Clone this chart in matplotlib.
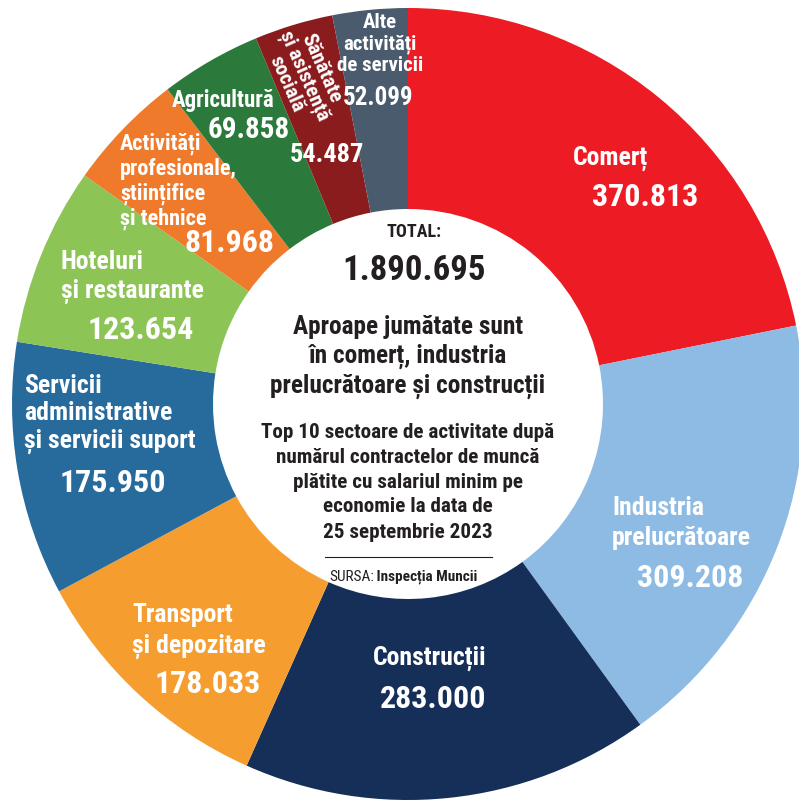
import numpy as np
import matplotlib.pyplot as plt

plt.rcParams['font.family'] = ['Roboto Condensed', 'Liberation Sans Narrow', 'Roboto', 'DejaVu Sans']

# date: numar contracte cu salariul minim, top 10 sectoare
sectoare = ['Comerț', 'Industria\nprelucrătoare', 'Construcții', 'Transport\nși depozitare',
            'Servicii\nadministrative\nși servicii suport', 'Hoteluri\nși restaurante',
            'Activități\nprofesionale,\nștiințifice\nși tehnice', 'Agricultură',
            'Sănătate\nși asistență\nsocială', 'Alte\nactivități\nde servicii']
contracte = [370813, 309208, 283000, 178033, 175950, 123654, 81968, 69858, 54487, 52099]
valori_txt = ['370.813', '309.208', '283.000', '178.033', '175.950', '123.654',
              '81.968', '69.858', '54.487', '52.099']
total_txt = '1.890.695'

culori = ['#ED1C24', '#8DBBE3', '#152F58', '#F59D2E', '#276A9C', '#8CC455',
          '#F07A2B', '#2B7A3B', '#8A1C1E', '#4A5B6D']

W, H = 799, 805
fig = plt.figure(figsize=(W / 100, H / 100), dpi=100)
ax = fig.add_axes([0, 0, 1, 1])

cx, cy = 408, H - 404
R, r_in = 396, 195
ax.pie(contracte, colors=culori, startangle=90, counterclock=False,
       radius=R, center=(cx, cy), frame=True,
       wedgeprops=dict(width=R - r_in, linewidth=0))
ax.set_xlim(0, W)
ax.set_ylim(0, H)
ax.set_aspect('equal')
ax.axis('off')

def t(x, y, s, **kw):
    kw.setdefault('color', 'white')
    kw.setdefault('fontweight', 'bold')
    kw.setdefault('va', 'center')
    ax.text(x, H - y, s, **kw)

# etichete sectoare (pozitii in pixeli, de sus)
lab_fs = 18.5
val_fs = 23
t(610, 158, sectoare[0], fontsize=lab_fs, ha='center')
t(645, 197, valori_txt[0], fontsize=val_fs, ha='center')

t(612, 523, sectoare[1], fontsize=lab_fs, ha='left', linespacing=1.35)
t(690, 578, valori_txt[1], fontsize=val_fs, ha='center')

t(430, 658, sectoare[2], fontsize=lab_fs, ha='center')
t(433, 699, valori_txt[2], fontsize=val_fs, ha='center')

t(132, 631, sectoare[3], fontsize=lab_fs, ha='left', linespacing=1.35)
t(208, 684, valori_txt[3], fontsize=val_fs, ha='center')

t(24, 414, sectoare[4], fontsize=lab_fs, ha='left', linespacing=1.17)
t(113, 483, valori_txt[4], fontsize=val_fs, ha='center')

t(61, 277, sectoare[5], fontsize=lab_fs, ha='left', linespacing=1.27)
t(141, 330, valori_txt[5], fontsize=val_fs, ha='center')

# primul rand separat, ca sa nu se suprapuna cu valoarea de la Agricultura
prima, rest = sectoare[6].split('\n', 1)
t(120, 144, prima, fontsize=16, ha='left')
t(120, 194, rest, fontsize=16, ha='left', linespacing=1.12)
t(229, 243, valori_txt[6], fontsize=val_fs, ha='center')

t(223, 100, sectoare[7], fontsize=16.5, ha='center')
t(249, 130, valori_txt[7], fontsize=21, ha='center')

t(304, 76, sectoare[8], fontsize=15, ha='center', rotation=-66,
  rotation_mode='anchor', linespacing=0.95)
t(327, 155, valori_txt[8], fontsize=19, ha='center')

t(380, 44, sectoare[9], fontsize=15, ha='center', linespacing=1.12)
t(378, 98, valori_txt[9], fontsize=18, ha='center')

# text central
dark = '#231F20'
t(414, 232, 'TOTAL:', fontsize=13, ha='center', color=dark)
t(414, 270, total_txt, fontsize=25, ha='center', color=dark)
t(408, 357, 'Aproape jumătate sunt\nîn comerț, industria\nprelucrătoare și construcții',
  fontsize=18.3, ha='center', color=dark, linespacing=1.22)
t(408, 482, 'Top 10 sectoare de activitate după\nnumărul contractelor de muncă\n'
  'plătite cu salariul minim pe\neconomie la data de\n25 septembrie 2023',
  fontsize=15.2, ha='center', color=dark, linespacing=1.4)
ax.plot([325, 492], [H - 557, H - 557], color=dark, lw=0.8)
t(374, 577, 'SURSA:', fontsize=11, ha='right', color=dark, fontweight='normal')
t(373, 577, ' Inspecția Muncii', fontsize=11, ha='left', color=dark)

fig.savefig('out.png', dpi=100)
